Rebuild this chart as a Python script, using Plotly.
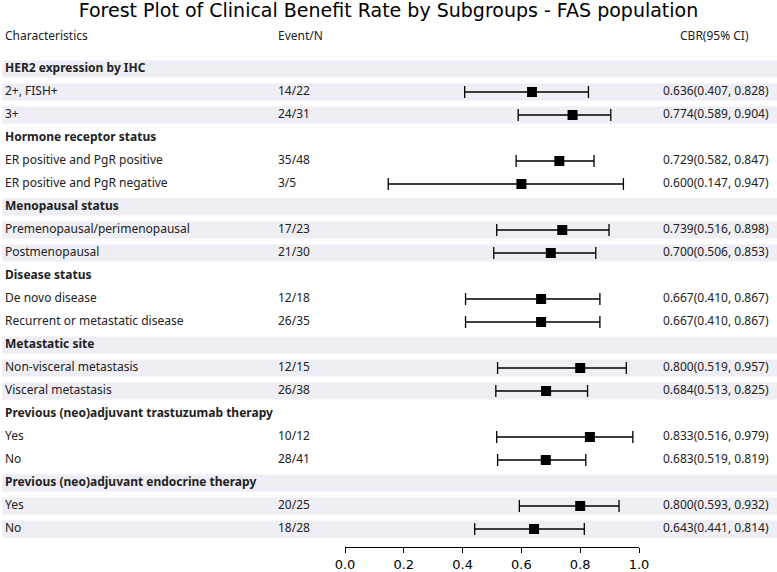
import plotly.graph_objects as go

groups = [
    "HER2 expression by IHC",
    "Hormone receptor status",
    "Menopausal status",
    "Disease status",
    "Metastatic site",
    "Previous (neo)adjuvant trastuzumab therapy",
    "Previous (neo)adjuvant endocrine therapy",
]
subgroups = [
    ["2+, FISH+", "3+"],
    ["ER positive and PgR positive", "ER positive and PgR negative"],
    ["Premenopausal/perimenopausal", "Postmenopausal"],
    ["De novo disease", "Recurrent or metastatic disease"],
    ["Non-visceral metastasis", "Visceral metastasis"],
    ["Yes", "No"],
    ["Yes", "No"],
]
events = [
    ["14/22", "24/31"],
    ["35/48", "3/5"],
    ["17/23", "21/30"],
    ["12/18", "26/35"],
    ["12/15", "26/38"],
    ["10/12", "28/41"],
    ["20/25", "18/28"],
]
cbr = [[0.636, 0.774], [0.729, 0.600], [0.739, 0.700], [0.667, 0.667],
       [0.800, 0.684], [0.833, 0.683], [0.800, 0.643]]
lower = [[0.407, 0.589], [0.582, 0.147], [0.516, 0.506], [0.410, 0.410],
         [0.519, 0.513], [0.516, 0.519], [0.593, 0.441]]
upper = [[0.828, 0.904], [0.847, 0.947], [0.898, 0.853], [0.867, 0.867],
         [0.957, 0.825], [0.979, 0.819], [0.932, 0.814]]
tick_vals = [0.0, 0.2, 0.4, 0.6, 0.8, 1.0]
col_headers = ["Characteristics", "Event/N", "CBR(95% CI)"]

W, H = 777, 572
TXT_FONT = "Noto Sans"
SHADE = "#eeeef4"
PX_PER_UNIT = 294.0
X0_PX = 345.0

def xv(px):
    # convert a horizontal pixel position into the full-width helper axis units
    return (px - X0_PX) / PX_PER_UNIT

COL_LABEL, COL_EVENT, COL_CI, COL_CIHEAD = xv(5), xv(278), xv(663), xv(680)

fig = go.Figure()
shapes = []

lab_x, lab_y, lab_t = [], [], []
hdr_x, hdr_y, hdr_t = [], [], []
xs, ys, ep, em = [], [], [], []
row = 0
for g, gname in enumerate(groups):
    hdr_x.append(COL_LABEL); hdr_y.append(row); hdr_t.append("<b>" + gname + "</b>")
    for k in range(2):
        r = row + 1 + k
        lab_x += [COL_LABEL, COL_EVENT, COL_CI]
        lab_y += [r, r, r]
        lab_t += [subgroups[g][k], events[g][k],
                  "%.3f(%.3f, %.3f)" % (cbr[g][k], lower[g][k], upper[g][k])]
        xs.append(cbr[g][k]); ys.append(r)
        ep.append(upper[g][k] - cbr[g][k]); em.append(cbr[g][k] - lower[g][k])
    if g % 2 == 0:
        for r in (row, row + 1, row + 2):
            shapes.append(dict(type="rect", xref="paper", yref="y", x0=0.003, x1=1,
                               y0=r - 0.37, y1=r + 0.37, fillcolor=SHADE,
                               line=dict(width=0), layer="below"))
    row += 3

HEAD_ROW = -1.39
lab_x += [COL_LABEL, COL_EVENT, COL_CIHEAD]
lab_y += [HEAD_ROW] * 3
lab_t += col_headers

fig.add_trace(go.Scatter(x=lab_x, y=lab_y, text=lab_t, mode="text", xaxis="x", yaxis="y",
                         textposition="middle right", cliponaxis=False,
                         textfont=dict(family=TXT_FONT, size=12, color="#222"),
                         showlegend=False, hoverinfo="skip"))
fig.add_trace(go.Scatter(x=hdr_x, y=hdr_y, text=hdr_t, mode="text", xaxis="x", yaxis="y",
                         textposition="middle right", cliponaxis=False,
                         textfont=dict(family=TXT_FONT, size=12, color="#222"),
                         showlegend=False, hoverinfo="skip"))

fig.add_trace(go.Scatter(
    x=xs, y=ys, xaxis="x2", yaxis="y", mode="markers",
    marker=dict(symbol="square", size=10, color="black"),
    error_x=dict(type="data", symmetric=False, array=ep, arrayminus=em,
                 color="black", thickness=1.3, width=6),
    showlegend=False, hoverinfo="skip", cliponaxis=False,
))

B = 25
plot_h = H - B
top = -69 / 23.0
bottom = top + plot_h / 23.0

fig.update_layout(
    width=W, height=H,
    margin=dict(l=0, r=0, t=0, b=B, autoexpand=False),
    plot_bgcolor="rgba(0,0,0,0)", paper_bgcolor="white",
    title=dict(text="Forest Plot of Clinical Benefit Rate by Subgroups - FAS population",
               x=0.5, xanchor="center", xref="paper", yref="container",
               y=1 - 10 / H, yanchor="middle",
               font=dict(family="DejaVu Sans", size=19, color="black")),
    xaxis=dict(domain=[0, 1], range=[xv(0), xv(W)], visible=False, fixedrange=True),
    xaxis2=dict(domain=[X0_PX / W, (X0_PX + PX_PER_UNIT) / W], range=[0, 1], anchor="y",
                showline=True, linecolor="black", linewidth=1,
                ticks="outside", ticklen=5, tickcolor="black", tickwidth=1,
                tickvals=tick_vals, tickformat=".1f", showgrid=False, zeroline=False,
                tickfont=dict(family="DejaVu Sans", size=13, color="black")),
    yaxis=dict(range=[bottom, top], visible=False, showgrid=False, zeroline=False),
    shapes=shapes,
)

fig.write_html("out.html", config={"displayModeBar": False},
               post_script="document.body.style.margin='0';")
